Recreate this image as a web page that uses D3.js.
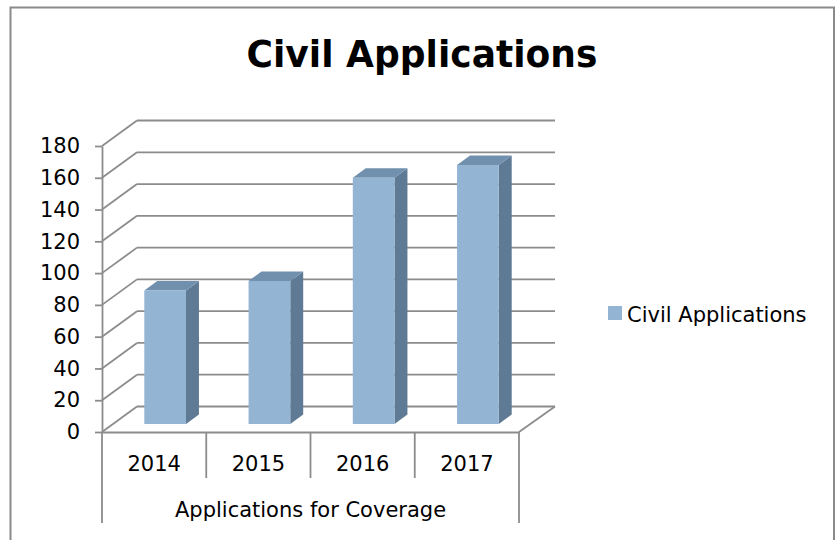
<!DOCTYPE html>
<html>
<head>
<meta charset="utf-8">
<script src="https://cdn.jsdelivr.net/npm/d3@7"></script>
<style>
  html, body { margin: 0; padding: 0; background: #fff; }
  svg { display: block; }
  text { font-family: "DejaVu Sans", sans-serif; fill: #000; }
</style>
</head>
<body>
<script>
// Chart data
const chartTitle = "Civil Applications";
const seriesName = "Civil Applications";
const axisTitle = "Applications for Coverage";
const categories = ["2014", "2015", "2016", "2017"];
const values = [84, 90, 155, 163];
const yTicks = [0, 20, 40, 60, 80, 100, 120, 140, 160, 180];

const W = 836, H = 540;
const svg = d3.select("body").append("svg").attr("width", W).attr("height", H);

// Outer chart frame
svg.append("rect")
  .attr("x", 10.5).attr("y", 7.5)
  .attr("width", 823.5).attr("height", H)
  .attr("fill", "#fff").attr("stroke", "#8a8a8a").attr("stroke-width", 2);

// Front plane of the 3D plot box and the depth offset to its back wall
const plot = { left: 102, right: 519, bottom: 432, top: 146 };
const depth = { dx: 35, dy: -25.5 };
const barDepthFrac = 0.37;
const barFrontFrac = (1 - barDepthFrac) / 2;

const x = d3.scaleBand().domain(categories).range([plot.left, plot.right]);
const y = d3.scaleLinear().domain([0, 180]).range([plot.bottom, plot.top]);

const gridColor = "#8c8c8c";
const grid = svg.append("g").attr("stroke", gridColor).attr("stroke-width", 1.8).attr("fill", "none");

// Back wall gridlines
grid.selectAll("line.back").data(yTicks).join("line")
  .attr("class", "back")
  .attr("x1", plot.left + depth.dx).attr("x2", plot.right + depth.dx + 1)
  .attr("y1", d => y(d) + depth.dy).attr("y2", d => y(d) + depth.dy);

// Side wall diagonals
grid.selectAll("line.side").data(yTicks).join("line")
  .attr("class", "side")
  .attr("x1", plot.left).attr("y1", d => y(d))
  .attr("x2", plot.left + depth.dx).attr("y2", d => y(d) + depth.dy);

// Floor right edge
grid.append("line")
  .attr("x1", plot.right).attr("y1", y(0))
  .attr("x2", plot.right + depth.dx + 1).attr("y2", y(0) + depth.dy);

// 3D bars
const bw = x.bandwidth() / 2.5;
const off = { dx: depth.dx * barFrontFrac, dy: depth.dy * barFrontFrac };
const bd = { dx: depth.dx * barDepthFrac, dy: depth.dy * barDepthFrac };

const bars = svg.append("g").selectAll("g.bar")
  .data(categories.map((c, i) => ({ c, v: values[i] })))
  .join("g").attr("class", "bar");

const bx = d => x(d.c) + (x.bandwidth() - bw) / 2 + off.dx;
const bTop = d => y(d.v) + off.dy;
const bBot = () => y(0) + off.dy;

bars.append("path")
  .attr("fill", "#5f7a94")
  .attr("d", d => {
    const x1 = bx(d) + bw;
    return `M${x1},${bBot()}L${x1 + bd.dx},${bBot() + bd.dy}L${x1 + bd.dx},${bTop(d) + bd.dy}L${x1},${bTop(d)}Z`;
  });
bars.append("path")
  .attr("fill", "#7190ae")
  .attr("d", d => {
    const x0 = bx(d), t = bTop(d);
    return `M${x0},${t}L${x0 + bw},${t}L${x0 + bw + bd.dx},${t + bd.dy}L${x0 + bd.dx},${t + bd.dy}Z`;
  });
bars.append("rect")
  .attr("fill", "#94b4d4")
  .attr("x", bx).attr("y", bTop)
  .attr("width", bw).attr("height", d => bBot() - bTop(d));

// Value axis
const yAxis = svg.append("g")
  .attr("transform", `translate(${plot.left},0)`)
  .call(d3.axisLeft(y).tickValues(yTicks).tickSize(7).tickSizeOuter(0).tickPadding(15));
yAxis.select(".domain").attr("stroke", gridColor).attr("stroke-width", 1.8);
yAxis.selectAll(".tick line").attr("stroke", gridColor).attr("stroke-width", 1.8);
yAxis.selectAll(".tick text")
  .attr("font-family", "DejaVu Sans").attr("font-size", 21).attr("fill", "#000");

// Category axis with multi-level labels
const xAxis = svg.append("g")
  .attr("transform", `translate(0,${plot.bottom})`)
  .call(d3.axisBottom(x).tickSize(0).tickPadding(24).tickSizeOuter(0));
xAxis.select(".domain").attr("stroke", gridColor).attr("stroke-width", 1.8);
xAxis.selectAll(".tick text")
  .attr("font-family", "DejaVu Sans").attr("font-size", 21).attr("fill", "#000");

const dividers = svg.append("g").attr("stroke", gridColor).attr("stroke-width", 1.8);
const edges = [plot.left, ...categories.slice(1).map(c => x(c)), plot.right];
dividers.selectAll("line").data(edges).join("line")
  .attr("x1", d => d).attr("x2", d => d)
  .attr("y1", plot.bottom)
  .attr("y2", (d, i) => (i === 0 || i === edges.length - 1) ? 523 : 478);

svg.append("text")
  .attr("x", (plot.left + plot.right) / 2).attr("y", 517)
  .attr("text-anchor", "middle").attr("font-size", 21)
  .text(axisTitle);

// Title
svg.append("text")
  .attr("x", 422).attr("y", 67)
  .attr("text-anchor", "middle")
  .attr("font-family", "DejaVu Sans").attr("font-weight", "bold").attr("font-size", 38)
  .attr("textLength", 351).attr("lengthAdjust", "spacingAndGlyphs")
  .text(chartTitle);

// Legend
const legend = svg.append("g").attr("transform", "translate(608,306)");
legend.append("rect").attr("width", 14).attr("height", 14).attr("fill", "#94b4d4");
legend.append("text").attr("x", 19).attr("y", 15.5).attr("font-size", 21).text(seriesName);
</script>
</body>
</html>
